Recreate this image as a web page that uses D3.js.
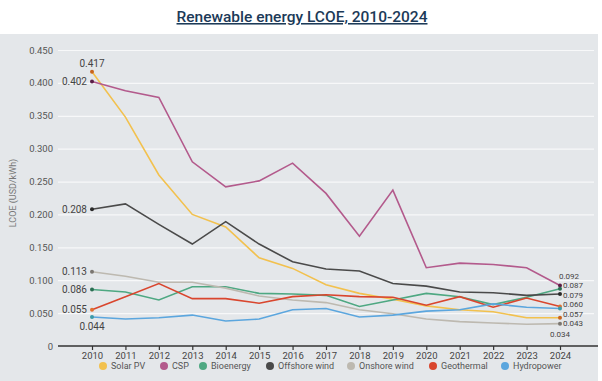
<!DOCTYPE html>
<html>
<head>
<meta charset="utf-8">
<script src="https://cdn.jsdelivr.net/npm/d3@7"></script>
<style>
  body { margin: 0; background: #fff; }
  text { font-family: Roboto, "Open Sans", sans-serif; }
</style>
</head>
<body>
<script>
let width = 602;
let height = 381;

// data
let years = [2010, 2011, 2012, 2013, 2014, 2015, 2016, 2017, 2018, 2019, 2020, 2021, 2022, 2023, 2024];
let seriesNames = ["Solar PV", "CSP", "Bioenergy", "Offshore wind", "Onshore wind", "Geothermal", "Hydropower"];
let solarPV = [0.417, 0.348, 0.260, 0.200, 0.181, 0.134, 0.118, 0.093, 0.080, 0.071, 0.061, 0.055, 0.052, 0.043, 0.043];
let csp = [0.402, 0.388, 0.378, 0.280, 0.242, 0.251, 0.278, 0.232, 0.167, 0.237, 0.119, 0.126, 0.124, 0.119, 0.092];
let bioenergy = [0.086, 0.082, 0.070, 0.090, 0.090, 0.080, 0.079, 0.077, 0.060, 0.070, 0.080, 0.075, 0.063, 0.074, 0.087];
let offshoreWind = [0.208, 0.216, 0.185, 0.155, 0.189, 0.155, 0.128, 0.117, 0.114, 0.095, 0.091, 0.082, 0.081, 0.077, 0.079];
let onshoreWind = [0.113, 0.106, 0.097, 0.097, 0.088, 0.076, 0.070, 0.066, 0.055, 0.049, 0.041, 0.037, 0.035, 0.033, 0.034];
let geothermal = [0.055, 0.075, 0.095, 0.072, 0.072, 0.065, 0.075, 0.078, 0.075, 0.074, 0.062, 0.075, 0.059, 0.073, 0.060];
let hydropower = [0.044, 0.041, 0.043, 0.047, 0.038, 0.041, 0.055, 0.057, 0.044, 0.047, 0.053, 0.055, 0.064, 0.059, 0.057];
let yTicks = [0, 0.05, 0.1, 0.15, 0.2, 0.25, 0.3, 0.35, 0.4, 0.45];

let seriesValues = [solarPV, csp, bioenergy, offshoreWind, onshoreWind, geothermal, hydropower];
let colors = ["#f2c14e", "#b35a8c", "#4ea882", "#4a4a4a", "#bdb9b0", "#d9462e", "#5ba6de"];
let dotColors = ["#c8641e", "#5a1e46", "#2a6e52", "#2a2a2a", "#7a7670", "#e07030", "#3a9aa8"];

// label placement for first / last values [dx, dy, anchor]
let startLabelPos = [[0, -8, "middle"], [-5, 0, "end"], [-5, 0, "end"], [-5, 0, "end"], [-5, 0, "end"], [-5, 0, "end"], [0, 9, "middle"]];
let endLabelPos = [[3, 5.8, "start"], [-1, -9.5, "start"], [3, -3.3, "start"], [3, 1, "start"], [0, 10.4, "middle"], [3, -2, "start"], [3, 5.5, "start"]];

let svg = d3.select("body").append("svg").attr("width", width).attr("height", height);

svg.append("rect").attr("x", 0).attr("y", 34).attr("width", 598).attr("height", height - 34).attr("fill", "#e4e7ea");

// title
svg.append("text")
  .attr("x", 302).attr("y", 22)
  .attr("text-anchor", "middle")
  .attr("font-size", 15.5).attr("font-weight", 500)
  .attr("fill", "#1c3a58")
  .attr("text-decoration", "underline")
  .text("Renewable energy LCOE, 2010-2024");

let x = d3.scaleLinear().domain([2010, 2024]).range([92, 560]);
let y = d3.scaleLinear().domain([0, 0.45]).range([346, 50]);

// gridlines + y labels
let yAxis = svg.append("g")
  .attr("transform", "translate(58,0)")
  .call(d3.axisLeft(y).tickValues(yTicks).tickSize(-536).tickPadding(5)
    .tickFormat(d => d === 0 ? "0" : d3.format(".3f")(d)));
yAxis.select(".domain").remove();
yAxis.selectAll("line").attr("stroke", "#f7f8f9").attr("stroke-width", 1.2)
  .filter(d => d === 0).remove();
yAxis.selectAll("text").attr("font-size", 9.5).attr("fill", "#555");

svg.append("text")
  .attr("transform", "translate(16,193) rotate(-90)")
  .attr("text-anchor", "middle")
  .attr("font-size", 9).attr("fill", "#777")
  .text("LCOE (USD/kWh)");

// x axis
let xAxis = svg.append("g")
  .attr("transform", "translate(0,346)")
  .call(d3.axisBottom(x).tickValues(years).tickSize(4).tickPadding(2).tickFormat(d3.format("d")));
xAxis.select(".domain").remove();
xAxis.selectAll("line").attr("stroke", "#333").attr("stroke-width", 1.2);
xAxis.selectAll("text").attr("font-size", 9.5).attr("fill", "#444");
svg.append("line").attr("x1", 58).attr("x2", 598).attr("y1", 346).attr("y2", 346)
  .attr("stroke", "#333").attr("stroke-width", 1.5);

// lines
let line = d3.line().x((d, i) => x(years[i])).y(d => y(d));
svg.selectAll(".series")
  .data(seriesValues)
  .enter()
  .append("path")
  .attr("d", d => line(d))
  .attr("fill", "none")
  .attr("stroke", (d, i) => colors[i])
  .attr("stroke-width", 1.6);

// end points and labels
let last = years.length - 1;
seriesValues.forEach(function(vals, i) {
  [0, last].forEach(function(j) {
    svg.append("circle")
      .attr("cx", x(years[j])).attr("cy", y(vals[j])).attr("r", 2)
      .attr("fill", dotColors[i]);
    let pos = j === 0 ? startLabelPos[i] : endLabelPos[i];
    svg.append("text")
      .attr("x", x(years[j]) + pos[0])
      .attr("y", y(vals[j]) + pos[1])
      .attr("dy", "0.35em")
      .attr("text-anchor", pos[2])
      .attr("font-size", j === 0 ? 10 : 8).attr("fill", "#444")
      .text(d3.format(".3f")(vals[j]));
  });
});

// legend
let legendX = [103, 164, 203, 270, 351, 433, 505];
let legend = svg.selectAll(".legend")
  .data(seriesNames)
  .enter()
  .append("g")
  .attr("transform", (d, i) => "translate(" + legendX[i] + ",366)");
legend.append("circle").attr("r", 4).attr("fill", (d, i) => colors[i]);
legend.append("text")
  .attr("x", 8).attr("dy", "0.35em")
  .attr("font-size", 9).attr("fill", "#555")
  .text(d => d);
</script>
</body>
</html>
